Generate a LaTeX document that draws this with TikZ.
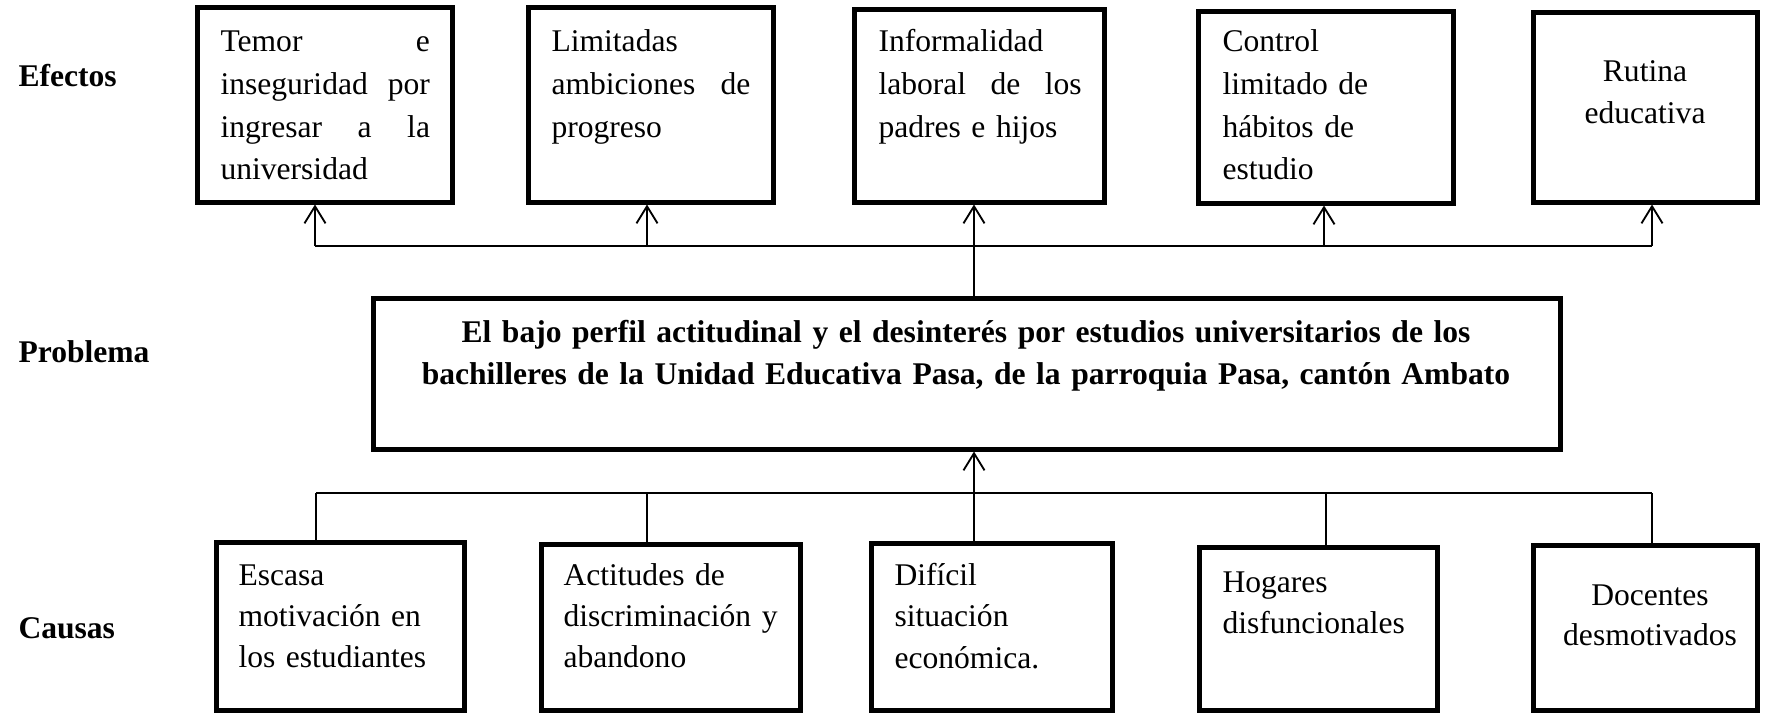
\documentclass[tikz,border=0pt]{standalone}
\usepackage{fontspec}
\setmainfont{Liberation Serif}
\usetikzlibrary{fit,arrows.meta}
\begin{document}
\begin{tikzpicture}[x=0.38pt,y=-0.38pt,
  box/.style={draw, line width=1.9pt, inner sep=0pt},
  txt/.style={inner sep=0pt, anchor=base west, align=left, text width=92pt, font=\fontsize{12}{16.2}\selectfont},
  ctxt/.style={inner sep=0pt, anchor=base, align=center, text width=92pt, font=\fontsize{12}{15.6}\selectfont},
  lab/.style={inner sep=0pt, anchor=base west, font=\bfseries\fontsize{12}{14}\selectfont},
  wire/.style={line width=0.7pt},
  arr/.style={wire, -{Straight Barb[length=6.5pt,width=8pt]}}]
\useasboundingbox (0,0) rectangle (1765,713);

% labels
\node[lab] (lefe) at (18,87) {Efectos};
\node[lab] (lpro) at (18,362) {Problema};
\node[lab] (lcau) at (18,638) {Causas};

% effect boxes
\node[box, fit={(197,8) (452,202)}] (e1) {};
\node[box, fit={(528,8) (773,202)}] (e2) {};
\node[box, fit={(854,10) (1104,202)}] (e3) {};
\node[box, fit={(1198,12) (1453,203)}] (e4) {};
\node[box, fit={(1533,13) (1757,202)}] (e5) {};

\node[txt, text width=79.6pt] (e1t) at (220,52) {Temor\hfill e\\inseguridad\hfill por\\ingresar\hfill a\hfill la\\universidad};
\node[txt, text width=75.6pt] (e2t) at (551,52) {Limitadas\\ambiciones\hfill de\\progreso};
\node[txt, text width=77.2pt] (e3t) at (878,52) {Informalidad\\laboral\hfill de\hfill los\\padres e hijos};
\node[txt] (e4t) at (1222,52) {Control\\limitado de\\hábitos de\\estudio};
\node[ctxt] (e5t) at (1645,82) {Rutina\\educativa};

% problem
\node[box, fit={(373,298) (1560,449)}] (p) {};
\node[inner sep=0pt, anchor=base, align=center, text width=440pt, font=\bfseries\fontsize{12}{16.3}\selectfont] (pt) at (966,342)
  {El bajo perfil actitudinal y el desinterés por estudios universitarios de los\\bachilleres de la Unidad Educativa Pasa, de la parroquia Pasa, cantón Ambato};

% cause boxes
\node[box, fit={(216,542) (464,710)}] (c1) {};
\node[box, fit={(541,544) (800,710)}] (c2) {};
\node[box, fit={(871,543) (1112,710)}] (c3) {};
\node[box, fit={(1199,547) (1437,710)}] (c4) {};
\node[box, fit={(1533,545) (1757,710)}] (c5) {};

\node[txt, font=\fontsize{12}{15.6}\selectfont] (c1t) at (238,585) {Escasa\\motivación en\\los estudiantes};
\node[txt, font=\fontsize{12}{15.6}\selectfont] (c2t) at (563,585) {Actitudes de\\discriminación y\\abandono};
\node[txt, font=\fontsize{12}{15.8}\selectfont] (c3t) at (894,585) {Difícil\\situación\\económica.};
\node[txt, font=\fontsize{12}{15.6}\selectfont] (c4t) at (1222,592) {Hogares\\disfuncionales};
\node[ctxt, font=\fontsize{12}{15.2}\selectfont] (c5t) at (1650,605) {Docentes\\desmotivados};

% effects bus
\coordinate (k1) at (315,246);
\coordinate (k2) at (647,246);
\coordinate (k3) at (974,246);
\coordinate (k4) at (1324,246);
\coordinate (k5) at (1652,246);
\draw[wire] (k1) -- (k5);
\draw[wire] (p.north -| k3) -- (k3);
\draw[arr] (k1) -- (k1 |- e1.south);
\draw[arr] (k2) -- (k2 |- e2.south);
\draw[arr] (k3) -- (k3 |- e3.south);
\draw[arr] (k4) -- (k4 |- e4.south);
\draw[arr] (k5) -- (k5 |- e5.south);

% causes bus
\coordinate (m1) at (316,493);
\coordinate (m2) at (647,493);
\coordinate (m3) at (974,493);
\coordinate (m4) at (1326,493);
\coordinate (m5) at (1652,493);
\draw[wire] (m1) -- (m5);
\draw[wire] (m1) -- (m1 |- c1.north);
\draw[wire] (m2) -- (m2 |- c2.north);
\draw[wire] (m4) -- (m4 |- c4.north);
\draw[wire] (m5) -- (m5 |- c5.north);
\draw[arr] (m3 |- c3.north) -- (m3 |- p.south);
\end{tikzpicture}
\end{document}
